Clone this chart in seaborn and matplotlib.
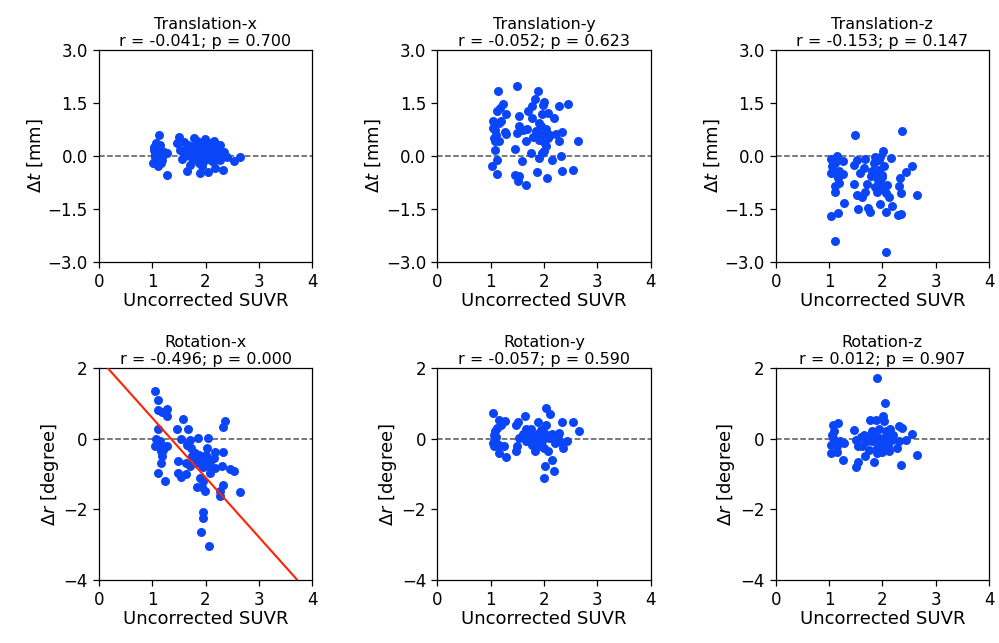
import numpy as np
import pandas as pd
import matplotlib
matplotlib.use("Agg")
import matplotlib.pyplot as plt
import seaborn as sns

# --- values, per panel (x = uncorrected SUVR) ---
tx_x = [1.13, 1.08, 1.04, 1.05, 1.02, 1.11, 1.27, 1.27, 1.18, 1.51, 1.46, 1.52, 1.55, 1.65,
        1.66, 1.71, 1.79, 1.84, 1.77, 1.90, 1.89, 1.99, 1.96, 2.06, 2.03, 1.99, 2.04, 2.15,
        2.28, 2.18, 2.17, 2.34, 2.33, 2.40, 2.53, 2.64, 2.28, 1.84, 2.09,
        1.06, 1.10, 1.12, 1.15, 1.08, 1.20, 1.14, 1.03, 1.17, 1.22,
        1.85, 1.92, 1.95, 2.00, 2.05, 1.88, 1.97, 2.10, 1.80, 2.02, 1.93, 2.12,
        1.58, 1.62, 1.70, 1.75, 1.68, 1.60, 2.22, 2.25, 2.30, 2.20]
tx_y = [0.58, 0.36, 0.17, -0.02, -0.21, -0.30, -0.54, 0.08, -0.11, 0.55, 0.36, 0.17, -0.08, 0.22,
        -0.44, -0.25, 0.50, 0.41, 0.17, -0.02, -0.49, 0.47, 0.26, 0.31, 0.08, -0.11, -0.47, 0.43,
        0.31, -0.11, -0.35, 0.12, -0.40, -0.02, -0.14, -0.04, -0.11, -0.11, 0.17,
        0.05, 0.12, -0.05, 0.20, -0.12, 0.02, 0.30, 0.25, -0.20, 0.10,
        0.05, 0.15, 0.35, 0.02, 0.20, -0.20, -0.05, 0.05, 0.30, 0.40, -0.30, -0.15,
        0.10, 0.00, 0.10, -0.05, 0.30, 0.40, 0.15, -0.05, 0.05, 0.30]

ty_x = [1.13, 1.49, 1.89, 1.23, 1.17, 1.11, 1.28, 1.04, 1.15, 1.09, 1.27, 1.28, 1.06, 1.15,
        1.09, 1.11, 1.03, 1.11, 1.08, 1.54, 1.54, 1.49, 1.66, 1.68, 1.61, 1.46, 1.58, 1.46,
        1.53, 1.52, 1.67, 1.75, 1.71, 1.78, 1.84, 1.77, 1.91, 1.87, 1.80, 1.90, 1.87, 2.01,
        1.99, 1.97, 2.07, 2.03, 1.96, 2.04, 2.01, 1.97, 2.05, 2.11, 2.18, 2.28, 2.45, 2.34,
        2.29, 2.32, 2.16, 2.34, 2.54, 2.64, 2.23, 1.91, 2.07,
        1.10, 1.05, 1.20, 2.00, 1.85, 1.95]
ty_y = [1.85, 1.98, 1.85, 1.46, 1.35, 1.27, 1.18, 0.99, 0.92, 0.74, 0.69, 0.62, 0.50, 0.42,
        0.17, -0.11, -0.28, -0.52, 0.41, 1.13, 0.85, 0.64, 0.41, 0.75, 0.74, 0.19, -0.14, -0.54,
        -0.58, -0.70, -0.82, 0.08, 1.27, 1.42, 1.61, 1.07, 0.94, 0.59, 0.55, -0.07, -0.47, 1.54,
        1.44, 1.19, 1.23, 0.75, 0.59, 0.28, 0.15, 0.08, -0.63, 0.59, 1.07, 1.42, 1.46, 0.69,
        0.41, 0.00, -0.11, -0.42, -0.40, 0.43, 0.62, 0.45, 0.50,
        0.60, 0.80, 1.00, 0.40, 0.70, 0.85]

tz_x = [1.49, 2.36, 2.01, 1.14, 1.04, 1.11, 1.27, 1.08, 1.04, 1.18, 1.27, 1.17, 1.11, 1.19,
        1.11, 1.28, 1.16, 1.03, 1.11, 1.52, 1.47, 1.68, 1.65, 1.58, 1.47, 1.71, 1.52, 1.61,
        1.55, 1.73, 1.76, 1.68, 1.87, 1.85, 1.93, 2.03, 1.79, 1.92, 1.87, 1.96, 1.90, 2.09,
        2.06, 2.13, 1.96, 2.18, 2.06, 2.07, 2.17, 2.33, 2.31, 2.34, 2.45, 2.55, 2.65, 2.30,
        2.35, 1.99, 1.93, 1.80, 1.96,
        1.05, 1.15, 1.95, 2.00, 1.90, 1.98]
tz_y = [0.59, 0.71, 0.14, 0.01, -0.09, -0.21, -0.14, -0.40, -0.49, -0.44, -0.52, -0.63, -0.85, -0.77,
        -1.01, -1.34, -1.62, -1.70, -2.41, -0.11, -0.25, -0.09, -0.35, -0.49, -0.80, -0.80, -1.10, -1.17,
        -1.50, -1.48, -1.58, -1.03, -0.02, -0.21, -0.13, -0.30, -0.58, -0.68, -0.87, -0.82, -1.01, -0.82,
        -1.06, -1.17, -1.37, -1.43, -1.58, -2.73, -0.07, -0.63, -0.85, -1.06, -0.47, -0.30, -1.10, -1.67,
        -1.65, -0.54, -0.40, -0.44, -0.02,
        -0.30, -0.55, -0.70, -0.60, -0.50, -0.95]

rx_x = [1.05, 1.11, 1.11, 1.18, 1.28, 1.28, 1.58, 1.47, 1.67, 1.11, 1.08, 1.54, 1.71, 1.85,
        2.04, 2.36, 2.33, 1.05, 1.14, 1.27, 1.16, 1.18, 1.16, 1.11, 1.24, 1.49, 1.49, 1.54,
        1.64, 1.64, 1.70, 1.66, 1.72, 1.79, 1.87, 1.90, 1.82, 2.03, 1.99, 2.06, 2.09, 2.17,
        2.15, 2.18, 2.33, 2.31, 2.45, 2.54, 2.64, 1.89, 1.84, 1.93, 1.99, 1.96, 2.28, 2.28,
        2.33, 1.96, 1.95, 1.91, 2.06, 1.21, 1.74, 1.93, 2.06,
        1.10, 1.15, 1.20, 1.85, 1.95, 2.00, 2.10, 1.80]
rx_y = [1.36, 1.10, 0.83, 0.76, 0.85, 0.66, 0.57, 0.27, 0.27, 0.27, 0.00, 0.00, -0.02, 0.03,
        0.03, 0.50, 0.34, -0.19, -0.23, -0.21, -0.35, -0.49, -0.68, -0.97, -1.18, -0.62, -0.97, -1.09,
        -0.99, -0.68, -0.76, -0.16, -0.26, -0.49, -0.45, -0.59, -0.68, -0.26, -0.59, -0.76, -0.97, -0.38,
        -0.54, -0.82, -0.38, -0.76, -0.85, -0.90, -1.49, -1.11, -1.37, -1.35, -1.47, -1.20, -1.47, -1.63,
        -1.30, -2.06, -2.25, -2.63, -3.03, -0.19, -0.49, -0.73, -0.59,
        -0.10, -0.05, -0.30, -0.55, -0.80, -0.45, -0.60, -0.40]
rx_fit_intercept = 2.29
rx_fit_slope = -1.69

ry_x = [1.04, 1.15, 1.27, 1.12, 1.06, 1.09, 1.15, 1.06, 1.25, 1.16, 1.28, 1.48, 1.52, 1.64,
        1.66, 1.54, 1.50, 1.48, 1.72, 1.78, 1.84, 1.88, 1.90, 2.03, 2.11, 2.04, 2.01, 1.97,
        2.07, 2.02, 2.16, 2.18, 2.01, 2.33, 2.29, 2.34, 2.35, 2.44, 2.54, 2.65, 2.26, 1.75,
        1.85, 1.94, 2.10, 1.66, 1.91, 1.08,
        1.10, 1.05, 1.20, 1.95, 2.05, 1.80, 1.90, 2.00, 1.60, 1.70, 2.15, 2.20]
ry_y = [0.74, 0.55, 0.50, 0.31, 0.12, -0.02, -0.16, -0.21, -0.21, -0.40, -0.51, 0.41, 0.47, 0.64,
        0.28, 0.03, -0.21, -0.35, 0.08, -0.16, -0.35, 0.47, 0.17, 0.88, 0.71, 0.41, 0.17, -0.07,
        -0.35, -0.78, -0.59, -0.90, -1.11, 0.48, 0.17, -0.11, -0.26, -0.07, 0.47, 0.24, 0.09, 0.27,
        -0.02, 0.03, 0.03, -0.07, -0.21, 0.22,
        0.05, -0.10, 0.40, 0.25, 0.10, 0.10, -0.10, -0.25, 0.15, -0.05, 0.15, -0.10]

rz_x = [1.90, 2.04, 2.01, 2.03, 1.76, 1.88, 1.08, 1.16, 1.10, 1.08, 1.04, 1.03, 1.14, 1.27,
        1.20, 1.28, 1.47, 1.50, 1.55, 1.68, 1.55, 1.50, 1.85, 1.74, 1.65, 1.80, 1.93, 2.06,
        2.15, 2.31, 2.36, 2.55, 2.45, 2.31, 2.27, 2.12, 2.00, 1.89, 2.00, 1.80, 1.71, 2.09,
        2.18, 2.34, 2.65, 1.74, 1.93, 1.61,
        1.10, 1.05, 1.15, 1.95, 2.05, 1.85, 2.10, 1.90, 2.20, 1.60]
rz_y = [1.72, 1.02, 0.66, 0.50, 0.55, 0.53, 0.41, 0.45, 0.22, 0.03, -0.16, -0.40, -0.38, -0.59,
        -0.07, -0.11, 0.25, -0.02, -0.21, -0.49, -0.66, -0.80, -0.66, -0.30, 0.12, 0.22, 0.27, 0.22,
        0.27, 0.38, 0.31, 0.15, -0.02, -0.07, -0.26, -0.35, -0.38, -0.40, -0.19, -0.07, -0.07, -0.02,
        -0.02, -0.73, -0.45, 0.08, 0.03, -0.19,
        -0.05, 0.10, -0.20, -0.10, 0.05, 0.10, -0.20, -0.25, 0.10, 0.05]

titles = ["Translation-x", "Translation-y", "Translation-z",
          "Rotation-x", "Rotation-y", "Rotation-z"]
stats = [("-0.041", "0.700"), ("-0.052", "0.623"), ("-0.153", "0.147"),
         ("-0.496", "0.000"), ("-0.057", "0.590"), ("0.012", "0.907")]
panels = [(tx_x, tx_y), (ty_x, ty_y), (tz_x, tz_y),
          (rx_x, rx_y), (ry_x, ry_y), (rz_x, rz_y)]

sns.set_style("ticks")
plt.rcParams["font.family"] = ["DejaVu Sans"]
plt.rcParams["text.color"] = "black"
plt.rcParams["axes.labelcolor"] = "black"
plt.rcParams["xtick.color"] = "black"
plt.rcParams["ytick.color"] = "black"

fig, axes = plt.subplots(2, 3, figsize=(9.99, 6.43), dpi=100)
fig.subplots_adjust(left=0.099, right=0.99, bottom=0.098, top=0.922,
                    wspace=0.587, hspace=0.505)

for i, ax in enumerate(axes.flatten()):
    px, py = panels[i]
    df = pd.DataFrame({"suvr": px, "delta": py})
    sns.scatterplot(data=df, x="suvr", y="delta", ax=ax, color="#0a45f7",
                    s=42, linewidth=0, zorder=3)
    ax.axhline(0, color="#555555", linestyle="--", linewidth=1.1, zorder=2)
    ax.set_xlim(0, 4)
    ax.set_xticks([0, 1, 2, 3, 4])
    if i < 3:
        ax.set_ylim(-3, 3)
        ax.set_yticks([-3.0, -1.5, 0.0, 1.5, 3.0])
        ax.set_yticklabels(["\u22123.0", "\u22121.5", "0.0", "1.5", "3.0"])
        ax.set_ylabel(r"$\Delta t$ [mm]", fontsize=13, labelpad=2)
    else:
        ax.set_ylim(-4, 2)
        ax.set_yticks([-4, -2, 0, 2])
        ax.set_yticklabels(["\u22124", "\u22122", "0", "2"])
        ax.set_ylabel(r"$\Delta r$ [degree]", fontsize=13, labelpad=2)
    if i == 3:
        ax.axline((0, rx_fit_intercept), slope=rx_fit_slope, color="#ff2200",
                  linewidth=1.5, zorder=4)
    ax.set_xlabel("Uncorrected SUVR", fontsize=13, labelpad=1)
    r, p = stats[i]
    ax.set_title(f"{titles[i]}\nr = {r}; p = {p}", fontsize=11.5, pad=3,
                 linespacing=1.2, color="black")
    ax.tick_params(labelsize=12, length=4.5, width=0.9)
    for sp in ax.spines.values():
        sp.set_color("black")
        sp.set_linewidth(0.9)

fig.savefig("out.png", dpi=100)
